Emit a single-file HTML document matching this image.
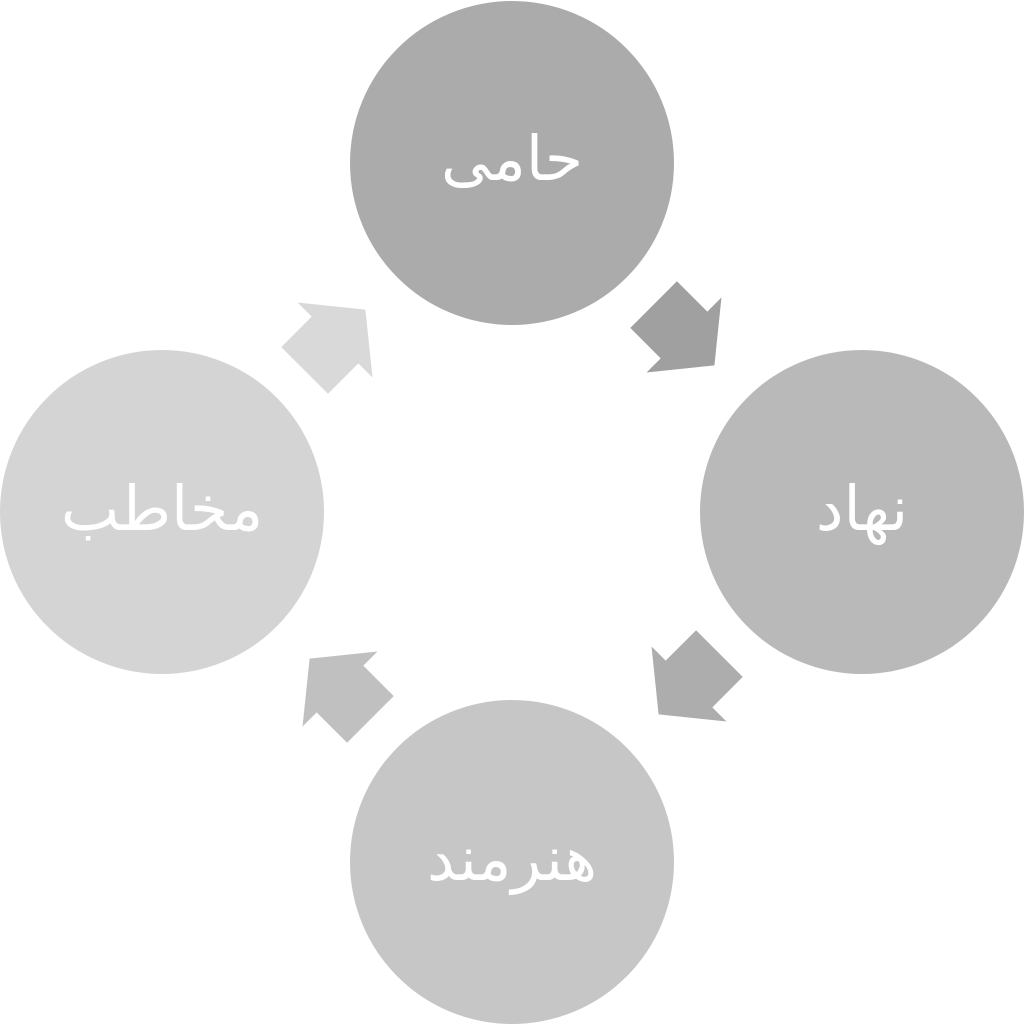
<!DOCTYPE html>
<html><head><meta charset="utf-8"><style>
html,body{margin:0;padding:0;background:#fff;}
</style></head><body>
<svg width="1024" height="1024" viewBox="0 0 1024 1024" xmlns="http://www.w3.org/2000/svg">
<circle cx="512" cy="163" r="162" fill="#ababab"/>
<circle cx="862" cy="512" r="162" fill="#b9b9b9"/>
<circle cx="512" cy="862" r="162" fill="#c6c6c6"/>
<circle cx="162" cy="512" r="162" fill="#d4d4d4"/>
<polygon transform="translate(684,335) rotate(45)" points="-43,-33 0,-33 0,-53 43,0 0,53 0,33 -43,33" fill="#a0a0a0"/>
<polygon transform="translate(689,684) rotate(135)" points="-43,-33 0,-33 0,-53 43,0 0,53 0,33 -43,33" fill="#adadad"/>
<polygon transform="translate(340,689) rotate(225)" points="-43,-33 0,-33 0,-53 43,0 0,53 0,33 -43,33" fill="#c0c0c0"/>
<polygon transform="translate(335,340) rotate(315)" points="-43,-33 0,-33 0,-53 43,0 0,53 0,33 -43,33" fill="#d9d9d9"/>
<g font-family="'DejaVu Sans','Liberation Sans',sans-serif" font-size="62" fill="#fff" text-anchor="middle">
<text x="512" y="180" direction="rtl">حامی</text>
<text x="862" y="530" direction="rtl">نهاد</text>
<text x="512" y="880" direction="rtl">هنرمند</text>
<text x="162" y="530" direction="rtl">مخاطب</text>
</g>
</svg>
</body></html>
